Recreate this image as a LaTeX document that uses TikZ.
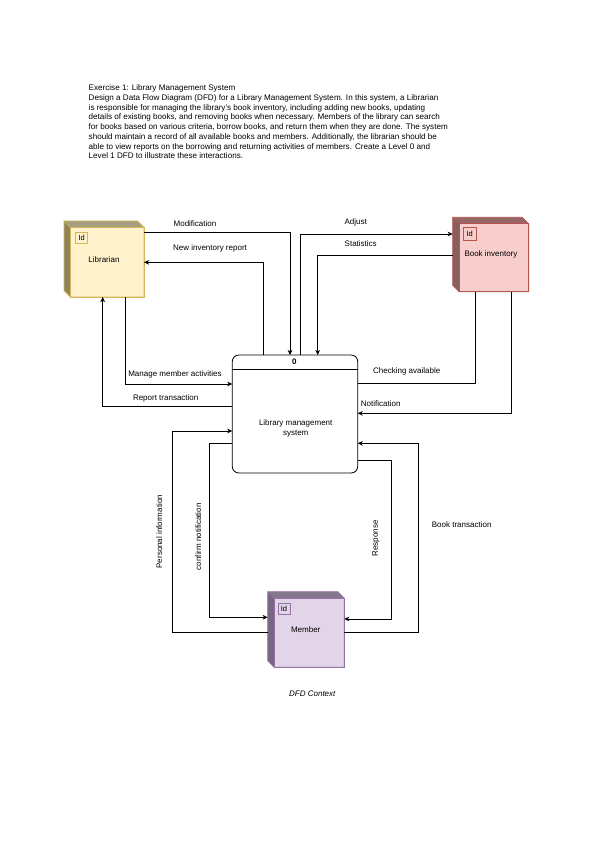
\documentclass[tikz,border=0pt]{standalone}
\usepackage{fontspec}
\setmainfont{Liberation Sans}
\usetikzlibrary{arrows.meta,calc}
\definecolor{libfill}{HTML}{FFF2CC}
\definecolor{libline}{HTML}{D6B656}
\definecolor{libtop}{RGB}{165,158,128}
\definecolor{libleft}{RGB}{142,132,96}
\definecolor{bookfill}{HTML}{F8CECC}
\definecolor{bookline}{HTML}{B85450}
\definecolor{booktop}{RGB}{150,102,102}
\definecolor{bookleft}{RGB}{135,95,95}
\definecolor{memfill}{HTML}{E1D5E7}
\definecolor{memline}{HTML}{9673A6}
\definecolor{memtop}{RGB}{132,120,142}
\definecolor{memleft}{RGB}{118,104,130}
\newcommand\dep{6.5pt}
\newcommand\drawcube[5]{%
  \fill[#4] (#1.north west) -- ([xshift=-\dep]#1.north east) -- ([yshift=-\dep]#1.north east)
     -- ([xshift=\dep,yshift=-\dep]#1.north west) -- cycle;
  \fill[#5] (#1.north west) -- ([xshift=\dep,yshift=-\dep]#1.north west) -- ([xshift=\dep]#1.south west)
     -- ([yshift=\dep]#1.south west) -- cycle;
  \fill[#2] ([xshift=\dep,yshift=-\dep]#1.north west) rectangle (#1.south east);
  \draw[#3,line width=0.8pt,line join=miter] (#1.north west) -- ([xshift=-\dep]#1.north east) -- ([yshift=-\dep]#1.north east)
     -- (#1.south east) -- ([xshift=\dep]#1.south west) -- ([yshift=\dep]#1.south west) -- cycle;
  \draw[#3,line width=0.8pt] ([xshift=\dep,yshift=-\dep]#1.north west) rectangle (#1.south east);
  \draw[#3,line width=0.6pt] (#1.north west) -- ([xshift=\dep,yshift=-\dep]#1.north west);
}
\begin{document}
\begin{tikzpicture}[x=1pt,y=-1pt,
  ent/.style={rectangle,inner sep=0pt,outer sep=0pt},
  idbox/.style={draw,line width=0.7pt,inner sep=0pt,outer sep=0pt,minimum width=12pt,minimum height=11pt,font=\fontsize{7.5}{8}\selectfont,anchor=north west},
  proc/.style={draw,line width=0.8pt,rounded corners=6.5pt,inner sep=0pt,outer sep=0pt},
  flow/.style={line width=0.8pt,-{Stealth[length=5pt,width=4.6pt,inset=1.4pt]}},
  plain/.style={line width=0.8pt},
  lbl/.style={font=\fontsize{8}{9}\selectfont,inner sep=0pt},
  elbl/.style={font=\fontsize{8}{9}\selectfont,inner sep=0pt}
]
\useasboundingbox (0,0) rectangle (595,842);
\fill[white] (0,0) rectangle (595,842);

% header text
\node[anchor=north west,align=left,inner sep=0pt,font=\fontsize{8.1}{9.75}\selectfont] (hdr) at (88.5,84.5)
{Exercise 1: Library Management System\\
Design a Data Flow Diagram (DFD) for a Library Management System. In this system, a Librarian\\
is responsible for managing the library's book inventory, including adding new books, updating\\
details of existing books, and removing books when necessary. Members of the library can search\\
for books based on various criteria, borrow books, and return them when they are done. The system\\
should maintain a record of all available books and members. Additionally, the librarian should be\\
able to view reports on the borrowing and returning activities of members. Create a Level 0 and\\
Level 1 DFD to illustrate these interactions.};

% entities
\node[ent,minimum width=80pt,minimum height=76pt] (lib) at (104,259) {};
\drawcube{lib}{libfill}{libline}{libtop}{libleft}
\node[idbox,draw=libline] (libid) at ([xshift=11.7pt,yshift=-11.7pt]lib.north west) {Id};
\node[elbl] (libtxt) at (104,259.3) {Librarian};

\node[ent,minimum width=76pt,minimum height=74.4pt] (book) at (490.7,254.5) {};
\drawcube{book}{bookfill}{bookline}{booktop}{bookleft}
\node[idbox,draw=bookline,minimum width=12.7pt,minimum height=12.3pt] (bookid) at ([xshift=10.6pt,yshift=-10.4pt]book.north west) {Id};
\node[elbl,anchor=west] (booktxt) at (464.3,254.7) {Book inventory};

\node[ent,minimum width=76.6pt,minimum height=75.6pt] (mem) at (306,629.5) {};
\drawcube{mem}{memfill}{memline}{memtop}{memleft}
\node[idbox,draw=memline] (memid) at ([xshift=10.2pt,yshift=-11.6pt]mem.north west) {Id};
\node[elbl] (memtxt) at (305.7,630) {Member};

% process
\node[proc,minimum width=125.4pt,minimum height=118pt] (proc) at (295,414) {};
\draw[line width=1.3pt] ([yshift=-14.7pt]proc.north west) -- ([yshift=-14.7pt]proc.north east);
\node[elbl,font=\fontsize{8}{9}\selectfont\bfseries] (pnum) at (294.3,361.7) {0};
\node[elbl,align=center,font=\fontsize{8}{10}\selectfont] (ptxt) at (295.7,428.7) {Library management\\system};

% connectors
\draw[flow] (lib.east |- 0,232) -| (proc.north -| 290,0);
\draw[flow] (proc.north -| 263.3,0) |- (lib.east |- 0,262.3);
\draw[flow] (lib.south -| 125.7,0) |- (proc.west |- 0,384);
\draw[flow] (proc.west |- 0,406.7) -| (lib.south -| 102.7,0);
\draw[flow] (proc.north -| 300.7,0) |- (book.west |- 0,234);
\draw[flow] (book.west |- 0,255.7) -| (proc.north -| 317.7,0);
\draw[plain] (book.south -| 475,0) |- (proc.east |- 0,383.3);
\draw[flow] (book.south -| 511,0) |- (proc.east |- 0,413.3);
\draw[flow] (mem.west |- 0,632.7) -| (172.7,431) -- (proc.west |- 0,431);
\draw[flow] (proc.west |- 0,443.3) -| (209,617.3) -- (mem.west |- 0,617.3);
\draw[flow] (proc.east |- 0,460.7) -| (391.7,619) -- (mem.east |- 0,619);
\draw[flow] (mem.east |- 0,632) -| (418.3,443.3) -- (proc.east |- 0,443.3);

% labels
\node[lbl] (l1) at (195,223.3) {Modification};
\node[lbl] (l2) at (210,248.3) {New inventory report};
\node[lbl] (l3) at (175,374.7) {Manage member activities};
\node[lbl] (l4) at (165.7,398) {Report transaction};
\node[lbl] (l5) at (355.7,222.3) {Adjust};
\node[lbl] (l6) at (360.7,244) {Statistics};
\node[lbl] (l7) at (406.7,371.7) {Checking available};
\node[lbl] (l8) at (380.7,404) {Notification};
\node[lbl,rotate=90] (l9) at (159.3,531.7) {Personal information};
\node[lbl,rotate=90] (l10) at (198.3,536.7) {confirm notification};
\node[lbl,rotate=90] (l11) at (376,538.3) {Response};
\node[lbl] (l12) at (461.7,524.3) {Book transaction};
\node[lbl,font=\fontsize{8}{9}\selectfont\itshape] (cap) at (312.3,694) {DFD Context};
\end{tikzpicture}
\end{document}
